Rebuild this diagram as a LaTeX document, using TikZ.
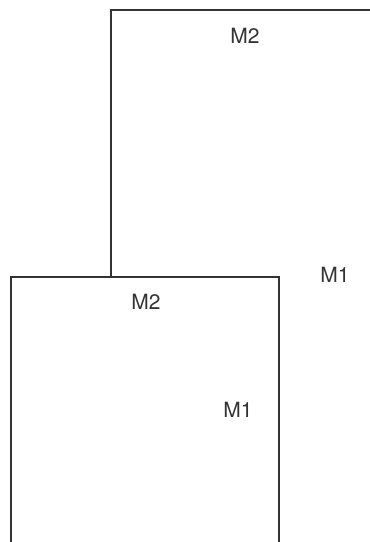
\documentclass[tikz,border=0pt]{standalone}
\usepackage{fontspec}
\setmainfont{TeX Gyre Heros}
\usepackage{tikz}

\begin{document}
\begin{tikzpicture}[x=1pt, y=-1pt,
  cadre/.style={line width=1.5pt, draw=black!80},
  etiq/.style={font=\fontsize{21}{21}\selectfont, text=black!80, inner sep=0pt}]

% Le cadre de la page
\useasboundingbox (0,0) rectangle (370,542);

% Le grand cadre (haut, coupé à droite)
\draw[cadre] (370,10) -- (111,10) -- (111,277);

% Le petit cadre (bas, ouvert en bas)
\draw[cadre] (11,542) -- (11,277) -- (279,277) -- (279,542);

% Les étiquettes
\node[etiq] (M2haut) at (245,36) {M2};
\node[etiq] (M1haut) at (335,275) {M1};
\node[etiq] (M2bas) at (146,302) {M2};
\node[etiq] (M1bas) at (238,410) {M1};

\end{tikzpicture}
\end{document}
